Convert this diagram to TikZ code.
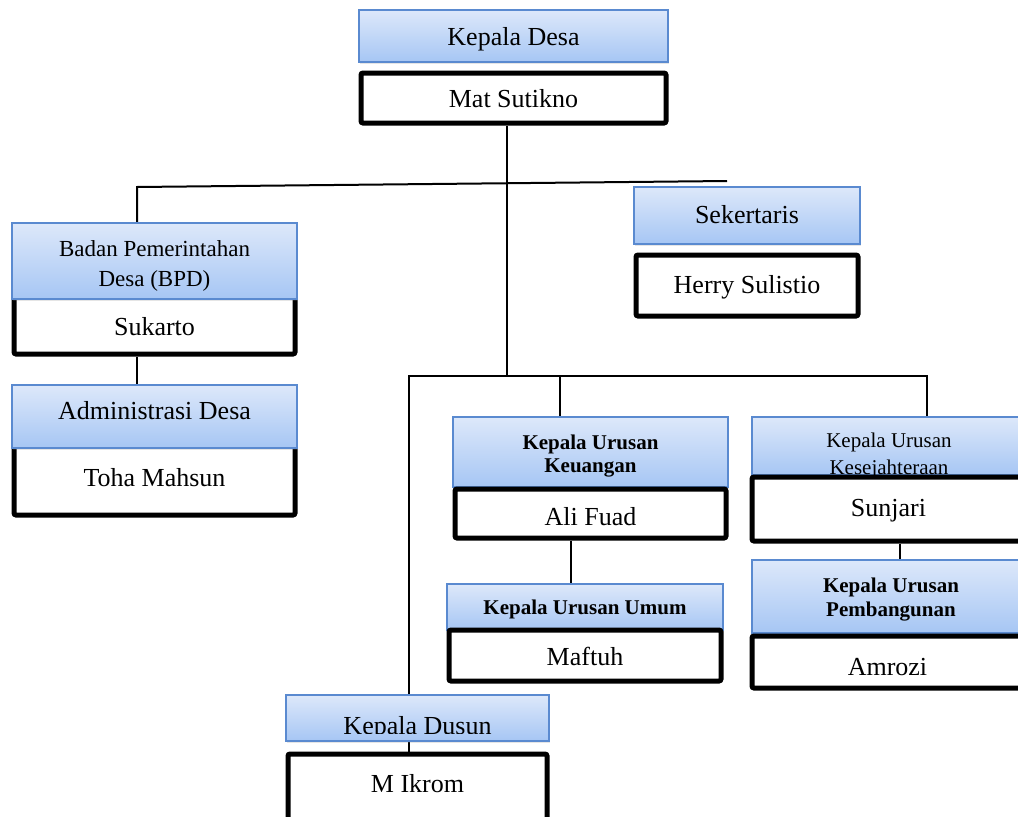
\documentclass[tikz,border=0pt]{standalone}
\usepackage{fontspec}
\setmainfont{Liberation Serif}
\usetikzlibrary{shadows,backgrounds}
\definecolor{bluetop}{HTML}{DDE8FA}
\definecolor{bluebot}{HTML}{A6C6F4}
\definecolor{blueedge}{HTML}{5A8AD0}
\tikzset{
  wh/.style 2 args={minimum width=#1pt, minimum height=#2pt},
  titlebox/.style={draw=blueedge, line width=1.5pt, top color=bluetop, bottom color=bluebot,
    align=center, inner sep=0pt, font=\fontsize{26}{30}\selectfont,
    text height=17.2pt, text depth=0pt,
    drop shadow={shadow xshift=0.8pt, shadow yshift=-1.5pt, opacity=0.2}},
  namebox/.style={draw=black, line width=5pt, fill=white, rounded corners=2pt,
    inner sep=0pt, font=\fontsize{26}{30}\selectfont, text height=17.2pt, text depth=0pt},
  link/.style={draw=black, line width=2pt},
  smallbold/.style={font=\fontsize{21}{23}\selectfont\bfseries, text height=13.9pt},
  smallreg/.style={font=\fontsize{21}{27}\selectfont},
}
\begin{document}
\begin{tikzpicture}[x=1pt,y=-1pt]
\useasboundingbox (0,0) rectangle (1018,817);

% top level
\node[titlebox, wh={309}{52}, text height=18.2pt] (kd) at (513.5,36) {Kepala Desa};
\node[namebox, wh={305}{50}, text height=19.2pt] (ms) at (513.5,98) {Mat Sutikno};

% left column
\node[namebox, wh={281}{58}, text height=21.2pt] (suk) at (154.5,325) {Sukarto};
\node[titlebox, wh={285}{76}, font=\fontsize{23}{30}\selectfont, text height=51.2pt, text depth=0pt] (bpd) at (154.5,261) {Badan Pemerintahan\\Desa (BPD)};
\node[namebox, wh={281}{70}, text depth=4pt] (toha) at (154.5,480) {Toha Mahsun};
\node[titlebox, wh={285}{63}, text depth=11pt] (adm) at (154.5,416.5) {Administrasi Desa};

% secretary
\node[titlebox, wh={226}{57}, text depth=2pt] (sek) at (747,215.5) {Sekertaris};
\node[namebox, wh={222}{61}, text depth=2pt] (herry) at (747,285.5) {Herry Sulistio};

% keuangan / umum
\node[titlebox, wh={275}{70}, smallbold, text height=40.8pt, text depth=0pt] (keu) at (590.5,452) {Kepala Urusan\\Keuangan};
\node[namebox, wh={271}{49}, text height=24.2pt] (ali) at (590.5,513.5) {Ali Fuad};
\node[titlebox, wh={276}{46}, smallbold, text height=15.9pt] (umum) at (585,607) {Kepala Urusan Umum};
\node[namebox, wh={272}{51}, text height=20.2pt] (maf) at (585,655.5) {Maftuh};

% kesejahteraan / pembangunan
\node[titlebox, wh={278}{58}] (kes) at (891,446) {};
\node[smallreg, align=center, anchor=north, inner sep=0pt] (kestext) at (889,433) {Kepala Urusan\\Kesejahteraan};
\node[namebox, wh={273}{64}, text depth=3pt] (sun) at (888.5,509) {Sunjari};
\node[titlebox, wh={278}{73}, smallbold, font=\fontsize{21}{24}\selectfont\bfseries, text height=39.8pt, text depth=0pt] (pem) at (891,596.5) {Kepala Urusan\\Pembangunan};
\node[namebox, wh={271}{52}, text height=27.2pt] (amr) at (887.5,662) {Amrozi};

% dusun
\node[titlebox, wh={263}{46}] (dusun) at (417.5,718) {};
\begin{scope}
  \clip (dusun.north west) rectangle (dusun.east |- 0,733);
  \node[anchor=base, inner sep=0pt, font=\fontsize{26}{30}\selectfont] (dusuntext) at (417.5,734.5) {Kepala Dusun};
\end{scope}
\node[namebox, wh={259}{72}, text depth=12pt] (ikrom) at (417.5,790) {M Ikrom};

% connectors
\coordinate (hl) at (137,187);
\coordinate (hr) at (727,181);
\coordinate (j1) at (507,376);
\coordinate (l1) at (409,376);
\coordinate (k1) at (560,376);
\coordinate (r1) at (927,376);
\coordinate (c3) at (571,560);
\coordinate (c4) at (900,550);

\begin{scope}[on background layer]
  \fill[white] (0,0) rectangle (1018,817);
  \draw[link] (j1 |- ms.south) -- (j1);
  \draw[link] (hl |- bpd.north) -- (hl) -- (hr);
  \draw[link] (hl |- suk.south) -- (hl |- adm.north);
  \draw[link] (l1 |- ikrom.north) -- (l1) -- (r1) -- (r1 |- kes.north);
  \draw[link] (k1) -- (k1 |- keu.north);
  \draw[link] (c3 |- ali.south) -- (c3 |- umum.north);
  \draw[link] (c4 |- sun.south) -- (c4 |- pem.north);
\end{scope}
\end{tikzpicture}
\end{document}
